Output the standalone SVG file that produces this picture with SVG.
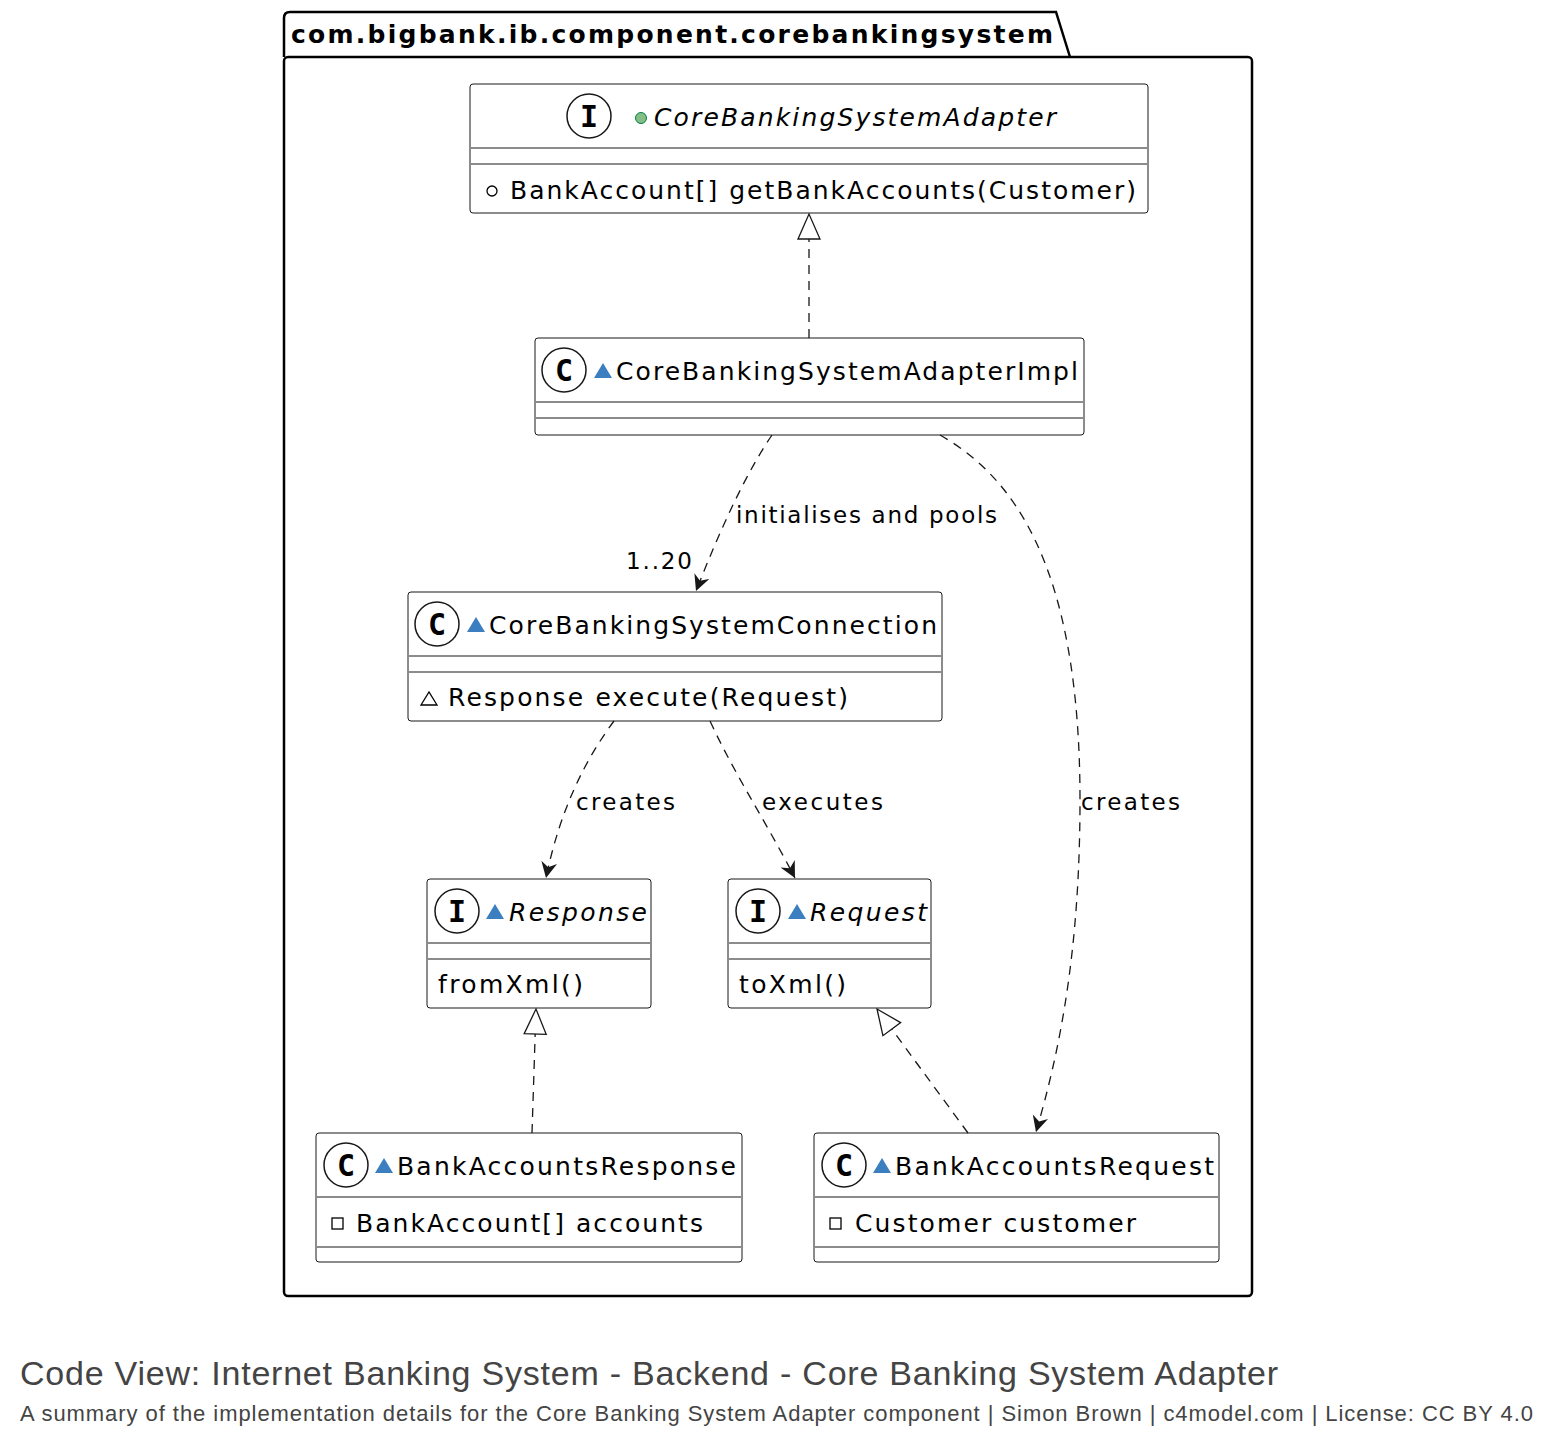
<svg xmlns="http://www.w3.org/2000/svg" width="1554" height="1446" viewBox="0 0 1554 1446">
<style>
.box{fill:#fff;stroke:#181818;stroke-width:1}
.ln{stroke:#181818;stroke-width:1}
.t{font-family:"DejaVu Sans",Verdana,sans-serif;font-size:25px;fill:#000}
.it{font-style:italic}
.ic{fill:#fff;stroke:#181818;stroke-width:1.5}
.il{font-family:"DejaVu Sans Mono",monospace;font-weight:bold;font-size:30px;fill:#000;text-anchor:middle}
.e{fill:none;stroke:#181818;stroke-width:1.3;stroke-dasharray:9,7}
.lab{font-family:"DejaVu Sans",Verdana,sans-serif;font-size:23px;fill:#000}
.vt{fill:#3b7fc0}
</style>
<defs>
<marker id="tri" markerWidth="28" markerHeight="28" refX="26" refY="12" orient="auto" markerUnits="userSpaceOnUse"><path d="M1,1 L26,12 L1,23 Z" fill="#fff" stroke="#181818" stroke-width="1.3"/></marker>
<marker id="arr" markerWidth="20" markerHeight="20" refX="16" refY="8" orient="auto" markerUnits="userSpaceOnUse"><path d="M0,0 L16,8 L0,16 L5,8 Z" fill="#181818"/></marker>
</defs>
<g id="package">
<path d="M284,57 L284,18 Q284,12 290,12 L1056,12 L1070,57" fill="none" stroke="#000" stroke-width="2.5"/>
<rect x="284" y="57" width="968" height="1239" rx="4" fill="none" stroke="#000" stroke-width="2.5"/>
<text x="291" y="43" font-family="DejaVu Sans,sans-serif" font-weight="bold" font-size="25" textLength="762">com.bigbank.ib.component.corebankingsystem</text>
</g>
<g id="CoreBankingSystemAdapter">
<rect class="box" x="470" y="84" width="678" height="129" rx="3"/>
<circle class="ic" cx="589" cy="116" r="22"/><text class="il" x="589" y="127">I</text>
<circle cx="641" cy="118" r="5.5" fill="#84be84" stroke="#038048"/>
<text class="t it" x="654" y="126" textLength="402">CoreBankingSystemAdapter</text>
<line class="ln" x1="471" y1="148" x2="1147" y2="148"/><line class="ln" x1="471" y1="164" x2="1147" y2="164"/>
<circle cx="492" cy="191" r="5" fill="none" stroke="#000" stroke-width="1.3"/>
<text class="t" x="510" y="199" textLength="626">BankAccount[] getBankAccounts(Customer)</text>
</g>
<g id="CoreBankingSystemAdapterImpl">
<rect class="box" x="535" y="338" width="549" height="97" rx="3"/>
<circle class="ic" cx="564" cy="370" r="22"/><text class="il" x="564" y="381">C</text>
<path class="vt" d="M594,378 L603,363 L612,378 Z"/>
<text class="t" x="616" y="380" textLength="462">CoreBankingSystemAdapterImpl</text>
<line class="ln" x1="536" y1="402" x2="1083" y2="402"/><line class="ln" x1="536" y1="418" x2="1083" y2="418"/>
</g>
<g id="CoreBankingSystemConnection">
<rect class="box" x="408" y="592" width="534" height="129" rx="3"/>
<circle class="ic" cx="437" cy="624" r="22"/><text class="il" x="437" y="635">C</text>
<path class="vt" d="M467,632 L476,617 L485,632 Z"/>
<text class="t" x="489" y="634" textLength="448">CoreBankingSystemConnection</text>
<line class="ln" x1="409" y1="656" x2="941" y2="656"/><line class="ln" x1="409" y1="672" x2="941" y2="672"/>
<path d="M421,705 L429,692 L437,705 Z" fill="none" stroke="#000" stroke-width="1.3"/>
<text class="t" x="448" y="706" textLength="400">Response execute(Request)</text>
</g>
<g id="Response">
<rect class="box" x="427" y="879" width="224" height="129" rx="3"/>
<circle class="ic" cx="457" cy="911" r="22"/><text class="il" x="457" y="922">I</text>
<path class="vt" d="M486,919 L495,904 L504,919 Z"/>
<text class="t it" x="509" y="921" textLength="138">Response</text>
<line class="ln" x1="428" y1="943" x2="650" y2="943"/><line class="ln" x1="428" y1="959" x2="650" y2="959"/>
<text class="t" x="438" y="993" textLength="145">fromXml()</text>
</g>
<g id="Request">
<rect class="box" x="728" y="879" width="203" height="129" rx="3"/>
<circle class="ic" cx="758" cy="911" r="22"/><text class="il" x="758" y="922">I</text>
<path class="vt" d="M788,919 L797,904 L806,919 Z"/>
<text class="t it" x="810" y="921" textLength="117">Request</text>
<line class="ln" x1="729" y1="943" x2="930" y2="943"/><line class="ln" x1="729" y1="959" x2="930" y2="959"/>
<text class="t" x="739" y="993" textLength="107">toXml()</text>
</g>
<g id="BankAccountsResponse">
<rect class="box" x="316" y="1133" width="426" height="129" rx="3"/>
<circle class="ic" cx="346" cy="1165" r="22"/><text class="il" x="346" y="1176">C</text>
<path class="vt" d="M375,1173 L384,1158 L393,1173 Z"/>
<text class="t" x="397" y="1175" textLength="339">BankAccountsResponse</text>
<line class="ln" x1="317" y1="1197" x2="741" y2="1197"/>
<rect x="332" y="1218" width="11" height="11" fill="none" stroke="#000" stroke-width="1.3"/>
<text class="t" x="356" y="1232" textLength="347">BankAccount[] accounts</text>
<line class="ln" x1="317" y1="1247" x2="741" y2="1247"/>
</g>
<g id="BankAccountsRequest">
<rect class="box" x="814" y="1133" width="405" height="129" rx="3"/>
<circle class="ic" cx="844" cy="1165" r="22"/><text class="il" x="844" y="1176">C</text>
<path class="vt" d="M873,1173 L882,1158 L891,1173 Z"/>
<text class="t" x="895" y="1175" textLength="319">BankAccountsRequest</text>
<line class="ln" x1="815" y1="1197" x2="1218" y2="1197"/>
<rect x="830" y="1218" width="11" height="11" fill="none" stroke="#000" stroke-width="1.3"/>
<text class="t" x="855" y="1232" textLength="281">Customer customer</text>
<line class="ln" x1="815" y1="1247" x2="1218" y2="1247"/>
</g>
<g id="connectors">
<path class="e" d="M809,338 L809,214" marker-end="url(#tri)"/>
<path class="e" d="M772,435 C745,475 720,530 696,591" marker-end="url(#arr)"/>
<text class="lab" x="736" y="523" textLength="261">initialises and pools</text>
<text class="lab" x="626" y="569" textLength="66">1..20</text>
<path class="e" d="M940,435 C1010,475 1080,560 1080,800 C1080,950 1060,1050 1036,1132" marker-end="url(#arr)"/>
<text class="lab" x="1081" y="810" textLength="99">creates</text>
<path class="e" d="M614,721 C585,760 560,810 546,878" marker-end="url(#arr)"/>
<text class="lab" x="576" y="810" textLength="99">creates</text>
<path class="e" d="M710,721 C735,775 765,820 795,878" marker-end="url(#arr)"/>
<text class="lab" x="762" y="810" textLength="121">executes</text>
<path class="e" d="M532,1133 L536,1009" marker-end="url(#tri)"/>
<path class="e" d="M968,1133 L877,1009" marker-end="url(#tri)"/>
</g>
<text x="20" y="1385" font-family="Liberation Sans,Arial,sans-serif" font-size="34" fill="#444" textLength="1258">Code View: Internet Banking System - Backend - Core Banking System Adapter</text>
<text x="20" y="1421" font-family="Liberation Sans,Arial,sans-serif" font-size="22" fill="#444" textLength="1513">A summary of the implementation details for the Core Banking System Adapter component | Simon Brown | c4model.com | License: CC BY 4.0</text>
</svg>
